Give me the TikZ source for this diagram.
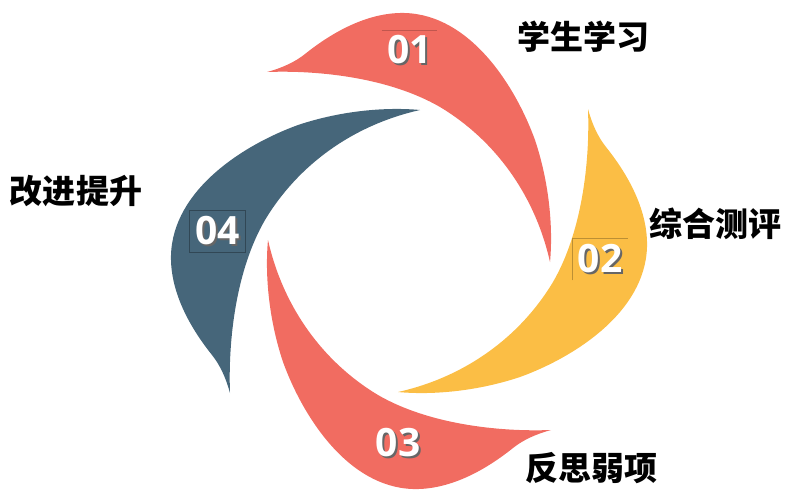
\documentclass[tikz,border=0pt]{standalone}
\usepackage{fontspec}
\setmainfont{Open Sans}
\newfontfamily\cjk{Noto Sans CJK SC}
\usepackage{xcolor}
\definecolor{petalred}{HTML}{F16C61}
\definecolor{petalyellow}{HTML}{FBBE45}
\definecolor{petalblue}{HTML}{46667A}
\newcommand{\shadowtext}[1]{\rlap{\kern1pt\raisebox{-1pt}{\color{black!60}#1}}#1}
\tikzset{
    numlabel/.style={text=white, inner sep=0pt, minimum width=27.5pt, minimum height=20.5pt,
        font=\fontsize{19.5}{20}\selectfont\bfseries},
    steplabel/.style={text=black, inner sep=0pt, font=\cjk\fontsize{16.5}{17}\selectfont\bfseries}
}

\begin{document}
\begin{tikzpicture}[x=0.5pt, y=-0.5pt]
        \useasboundingbox (0,0) rectangle (785,494);
        % one blade, turned round the centre four times
        \foreach \ang/\col in {0/petalred, -90/petalyellow, 180/petalred, 90/petalblue}
        {
            \fill[\col, rotate around={\ang:(409,251)}] (267,72)
                .. controls (282,68) and (295,62) .. (305,54)
                .. controls (335,30) and (370,12) .. (405,13)
                .. controls (470,15) and (515,85) .. (535,140)
                .. controls (550,185) and (553,230) .. (550,262)
                .. controls (535,195) and (495,140) .. (440,107)
                .. controls (390,78) and (320,70) .. (267,72) -- cycle;
        }
        \foreach \n/\x/\y in {1/409.5/51, 2/600/259.5, 3/398/444, 4/217.5/231.5}
            \node[numlabel] (n\n) at (\x,\y) {\shadowtext{0\n}};
        \draw[petalred!80!black, line width=0.4pt] (n1.north west) -- (n1.north east);
        \draw[petalyellow!75!black, line width=0.4pt] (n2.south west) -- (n2.north west) -- (n2.north east);
        \draw[petalblue!70!black, line width=0.4pt] (n4.south west) rectangle (n4.north east);

        \node[steplabel] (l1) at (583,37) {学生学习};
        \node[steplabel] (l2) at (715,224) {综合测评};
        \node[steplabel] (l3) at (591,468) {反思弱项};
        \node[steplabel] (l4) at (76,191) {改进提升};
    \end{tikzpicture}
\end{document}
